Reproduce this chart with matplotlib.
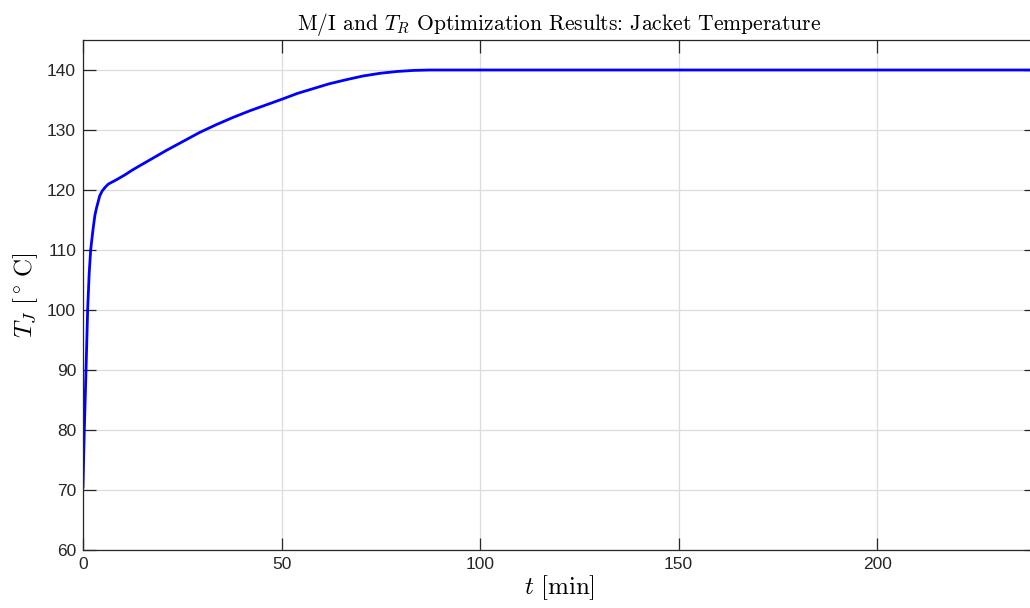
import numpy as np
import matplotlib
matplotlib.use('Agg')
import matplotlib.pyplot as plt

# Jacket temperature profile
t_min = [0, 0.33, 0.76, 1.17, 1.55, 1.93, 2.5, 3.0, 3.4, 3.8, 4.2, 4.8, 5.5, 6.4,
         8.4, 10.5, 12.6, 16.8, 21.0, 25.2, 29.4, 33.6, 37.8, 42.0, 46.2, 50.4,
         54, 58, 62, 66.4, 70.5, 74.8, 79, 83.2, 87.4, 100, 240]
T_J = [70.5, 80, 90, 100, 106, 110, 113.3, 115.8, 117, 118, 119, 119.8, 120.4, 121,
       121.7, 122.5, 123.4, 125.0, 126.6, 128.1, 129.6, 130.9, 132.1, 133.2, 134.2, 135.2,
       136.1, 136.9, 137.7, 138.4, 139.0, 139.45, 139.75, 139.93, 140, 140, 140]

x_ticks = [0, 50, 100, 150, 200]
y_ticks = [60, 70, 80, 90, 100, 110, 120, 130, 140]

plt.rcParams['mathtext.fontset'] = 'cm'
plt.rcParams['font.family'] = ['Liberation Sans', 'DejaVu Sans']

fig = plt.figure(figsize=(10.30, 6.08), dpi=100)
ax = fig.add_axes([83 / 1030, 58 / 608, (1036 - 83) / 1030, (550 - 40) / 608])

ax.plot(t_min, T_J, color='#0000ff', lw=2)

ax.set_xlim(0, 240)
ax.set_ylim(60, 145)
ax.set_xticks(x_ticks)
ax.set_yticks(y_ticks)
ax.grid(True, color='#dcdcdc', lw=0.9)
ax.set_axisbelow(True)

dark = '#262626'
for s in ax.spines.values():
    s.set_color(dark)
    s.set_linewidth(0.9)
ax.tick_params(direction='in', length=9, width=0.9, color=dark, labelcolor=dark,
               labelsize=12.5, top=True, right=True, pad=5)

ax.set_title(r'M/I and $T_R$ Optimization Results: Jacket Temperature',
             fontsize=15.5, family='cmr10', color='black', pad=7)
ax.set_xlabel(r'$t\ \mathrm{[min]}$', fontsize=18, color='black', labelpad=1)
ax.set_ylabel(r'$T_J\ [^\circ\,\mathrm{C}]$', fontsize=18, color='black', labelpad=5)

fig.savefig('out.png', dpi=100)
